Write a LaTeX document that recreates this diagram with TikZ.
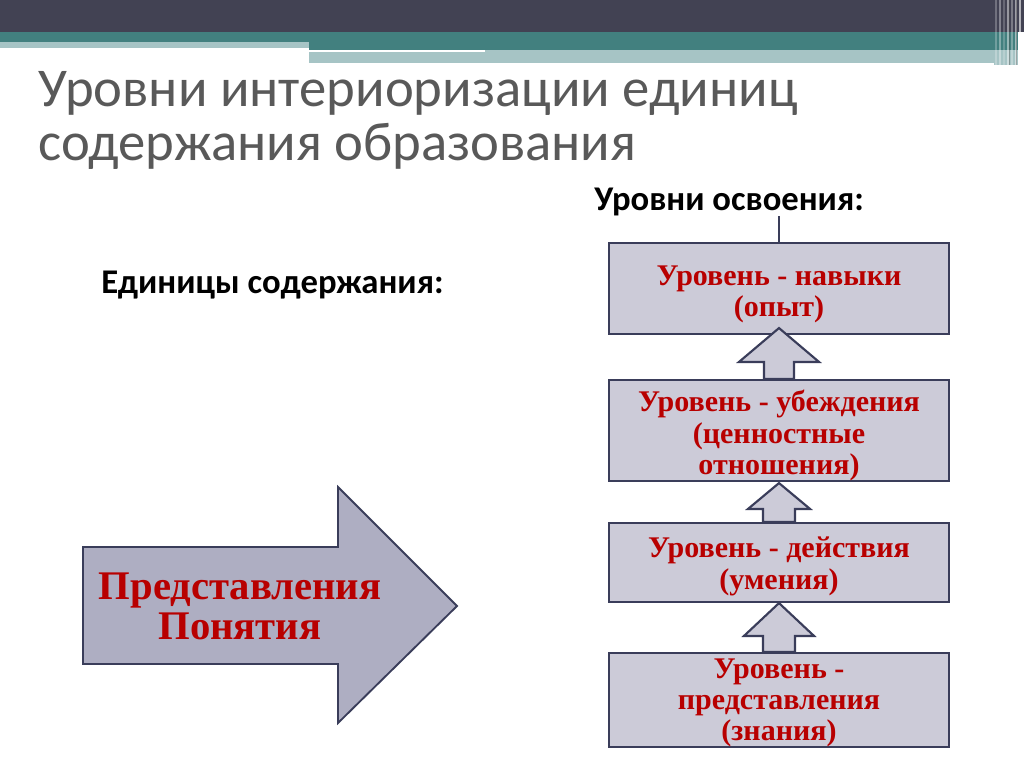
\documentclass[tikz,border=0pt]{standalone}
\usepackage{fontspec}
\setmainfont{Liberation Serif}
\newfontfamily\calib{Carlito}
\usetikzlibrary{calc}
\definecolor{hdark}{HTML}{424253}
\definecolor{hteal}{HTML}{42807F}
\definecolor{hlight}{HTML}{A6C4C5}
\definecolor{boxfill}{HTML}{CCCBD8}
\definecolor{arrfill}{HTML}{AEAEC2}
\definecolor{edge}{HTML}{3A3D5A}
\definecolor{dred}{HTML}{B80000}
\definecolor{tgray}{HTML}{595959}
\newcommand\blockup[6]{%
  \draw[barrow] ($(#2.south)+(0,#3)$) -- ($(#1.north)+(#5,-#4)$) -- ($(#1.north)+(#6,-#4)$)
   -- ($(#1.north)+(#6,0)$) -- ($(#1.north)+(-#6,0)$) -- ($(#1.north)+(-#6,-#4)$)
   -- ($(#1.north)+(-#5,-#4)$) -- cycle;}
\tikzset{
  levelbox/.style={draw=edge, line width=1.6pt, fill=boxfill, minimum width=255pt, inner sep=0pt},
  boxtext/.style={inner sep=0pt, align=center, text=dred, font=\bfseries\fontsize{22.5}{23.5}\selectfont},
  barrow/.style={draw=edge, line width=1.6pt, fill=boxfill, line join=miter},
  bigarrow/.style={draw=edge, line width=1.4pt, fill=arrfill, line join=miter},
  titletext/.style={anchor=base west, inner sep=0pt, text=tgray, font=\calib\fontsize{41}{49}\selectfont},
  headtext/.style={anchor=base west, inner sep=0pt, font=\calib\bfseries\fontsize{26}{30}\selectfont}
}
\begin{document}
\begin{tikzpicture}[x=0.75pt,y=-0.75pt]
\useasboundingbox (0,0) rectangle (1024,767);
\fill[white] (0,0) rectangle (1024,767);
% header bands
\fill[hdark] (0,0) rectangle (1024,32);
\fill[hteal] (0,32) rectangle (1018,42);
\fill[hlight] (0,42) rectangle (309,48);
\fill[hteal] (309,42) rectangle (1018,50);
\fill[hlight] (485,50) rectangle (1018,52);
\fill[hlight] (309,52) rectangle (1018,63);
\fill[hlight] (994,63) rectangle (1018,65);
% right vertical stripes
\foreach \xx/\op in {995/0.25,999/0.35,1003/0.2,1007/0.45,1011/0.3,1015/0.5,1019/0.6}
  \fill[white, opacity=\op] (\xx,0) rectangle ++(2,65);
\fill[gray!60!black, opacity=0.4] (1009,0) rectangle (1010,65);
\fill[gray!60!black, opacity=0.4] (1016,0) rectangle (1017,65);
% title
\node[titletext] (t1) at (38,107) {Уровни интериоризации единиц};
\node[titletext] (t2) at (38,160) {содержания образования};
% headings
\node[headtext] (lev) at (594,210) {Уровни освоения:};
\node[headtext] (units) at (101,293) {Единицы содержания:};
% level boxes
\node[levelbox, minimum height=68.25pt] (b1) at (779,288.5) {};
\node[levelbox, minimum height=75.75pt] (b2) at (779,430.5) {};
\node[levelbox, minimum height=59.25pt] (b3) at (779,562.5) {};
\node[levelbox, minimum height=70.5pt] (b4) at (779,700) {};
% connector from heading
\coordinate (levfoot) at (779,216);
\draw[edge, line width=1.2pt] (levfoot) -- (b1.north);
% up block arrows
\blockup{b2}{b1}{-7}{17}{40}{15}
\blockup{b3}{b2}{1}{13}{31}{16}
\blockup{b4}{b3}{0}{16}{35}{16}
% box texts
\node[boxtext] (b1t) at ($(b1)+(0,6)$) {Уровень - навыки\\(опыт)};
\node[boxtext] (b2t) at ($(b2)+(0,5)$) {Уровень - убеждения\\(ценностные\\отношения)};
\node[boxtext] (b3t) at ($(b3)+(0,4)$) {Уровень - действия\\(умения)};
\node[boxtext] (b4t) at ($(b4)+(0,3)$) {Уровень -\\представления\\(знания)};
% big right arrow
\draw[bigarrow] (83,547) -- (338,547) -- (338,487) -- (457,606) -- (338,723) -- (338,664) -- (83,664) -- cycle;
\node[align=center, text=dred, inner sep=0pt, font=\bfseries\fontsize{30.5}{30}\selectfont] (pa) at (240,606) {Представления\\Понятия};
\end{tikzpicture}
\end{document}
